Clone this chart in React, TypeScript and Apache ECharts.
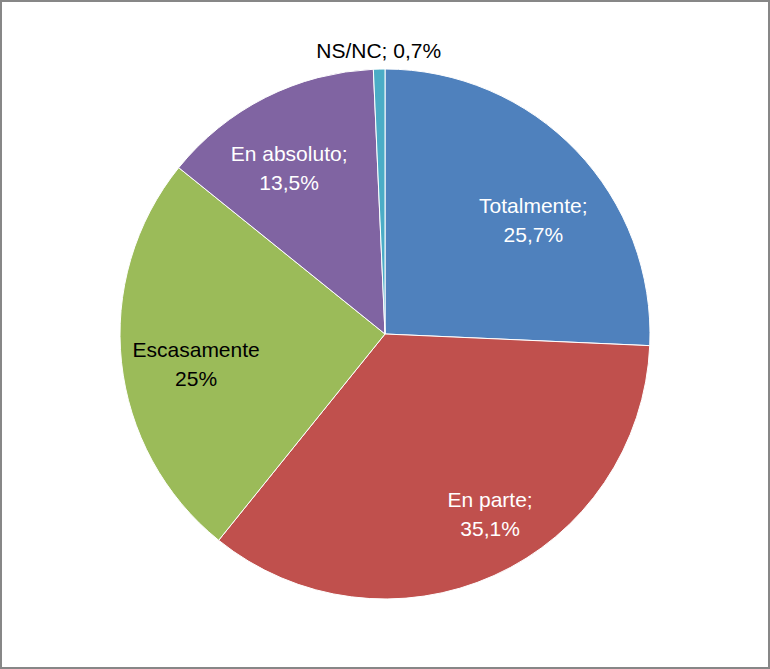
import React, { useEffect, useRef } from "react";
import * as echarts from "echarts";

const categories = ["Totalmente", "En parte", "Escasamente", "En absoluto", "NS/NC"];
const values = [25.7, 35.1, 25, 13.5, 0.7];
const separators = [";", ";", "", ";", ";"];
const colors = ["#4F81BD", "#C0504D", "#9BBB59", "#8064A2", "#4BACC6"];
const labelColors = ["#FFFFFF", "#FFFFFF", "#000000", "#FFFFFF", "#000000"];
// small nudges so labels sit where the original places them
const labelNudges = [
  [6, 22],
  [24, 0],
  [7, 9],
  [-7, 10],
  [0, 4],
];

const FONT = "'Liberation Sans Narrow', 'Arial Narrow', 'Liberation Sans', Arial, sans-serif";
const CENTER = [385, 334];

const fmt = (i: number, joiner: string) =>
  categories[i] + separators[i] + joiner + String(values[i]).replace(".", ",") + "%";

export default function App() {
  const ref = useRef<HTMLDivElement>(null);
  useEffect(() => {
    if (!ref.current) return;
    const chart = echarts.init(ref.current, null, { renderer: "svg" });
    const last = categories.length - 1;
    const baseData = categories.map((name, i) => ({
      name,
      value: values[i],
      itemStyle: { color: colors[i] },
    }));
    const labelStyle = {
      fontFamily: FONT,
      fontSize: 21,
      lineHeight: 29,
    };
    const labelSeries = (radius: number, showIdx: (i: number) => boolean, joiner: string) => ({
      type: "pie",
      center: CENTER,
      radius: [0, radius],
      startAngle: 90,
      clockwise: true,
      silent: true,
      emphasis: { disabled: true },
      itemStyle: { color: "transparent", borderWidth: 0 },
      labelLine: { show: false },
      data: categories.map((name, i) => ({
        name,
        value: values[i],
        itemStyle: { color: "transparent" },
        label: {
          show: showIdx(i),
          position: "inside",
          ...labelStyle,
          color: labelColors[i],
          offset: labelNudges[i],
          formatter: () => fmt(i, joiner),
        },
      })),
    });
    chart.setOption({
      animation: false,
      graphic: [
        {
          type: "rect",
          shape: { x: 1, y: 1, width: 768, height: 667 },
          style: { fill: "none", stroke: "#878787", lineWidth: 2 },
          silent: true,
        },
      ],
      series: [
        {
          type: "pie",
          center: CENTER,
          radius: [0, 265],
          startAngle: 90,
          clockwise: true,
          silent: true,
          emphasis: { disabled: true },
          itemStyle: { borderColor: "#FFFFFF", borderWidth: 1 },
          label: { show: false },
          labelLine: { show: false },
          data: baseData,
        },
        labelSeries(388, (i) => i !== last, "\n"),
        labelSeries(570, (i) => i === last, " "),
      ],
    });
    return () => chart.dispose();
  }, []);
  return (
    <div
      ref={ref}
      style={{ position: "fixed", left: 0, top: 0, width: 770, height: 669, background: "#FFFFFF" }}
    />
  );
}
